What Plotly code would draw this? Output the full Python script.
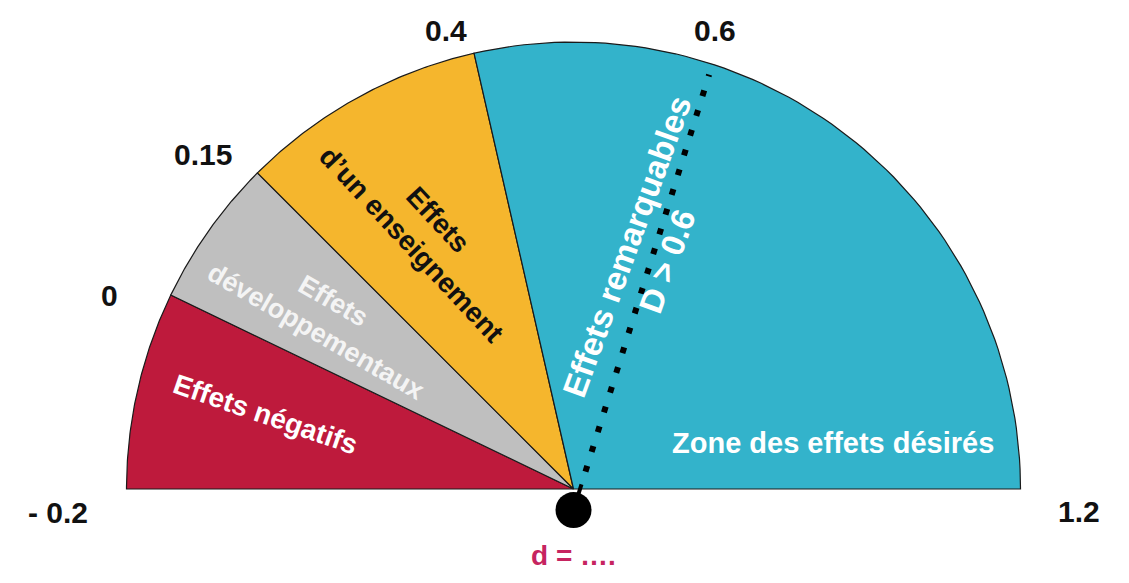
import numpy as np
import plotly.graph_objects as go

# gauge scale: values from -0.2 (left) to 1.2 (right)
scale_min = -0.2
scale_max = 1.2

zone_bounds = [-0.2, 0.0, 0.15, 0.4, 1.2]
zone_names = [
    "Effets négatifs",
    "Effets<br>développementaux",
    "Effets<br>d’un enseignement",
    "Zone des effets désirés",
]
zone_colors = ["#BE1A3C", "#BFBFBF", "#F5B62D", "#33B3CB"]
zone_text_colors = ["#ffffff", "#f4f4f4", "#111111", "#ffffff"]

tick_values = [-0.2, 0.0, 0.15, 0.4, 0.6, 1.2]
tick_labels = ["- 0.2", "0", "0.15", "0.4", "0.6", "1.2"]

threshold_value = 0.6
threshold_label = "Effets remarquables<br>D > 0.6"
result_label = "d = …."


def value_to_angle(v):
    return np.pi * (scale_max - v) / (scale_max - scale_min)


fig = go.Figure()

# sectors
for lo, hi, color in zip(zone_bounds[:-1], zone_bounds[1:], zone_colors):
    t = np.linspace(value_to_angle(lo), value_to_angle(hi), 80)
    xs = np.concatenate([[0], np.cos(t), [0]])
    ys = np.concatenate([[0], np.sin(t), [0]])
    fig.add_trace(
        go.Scatter(
            x=xs,
            y=ys,
            mode="lines",
            fill="toself",
            fillcolor=color,
            line=dict(color="#1a1a1a", width=1.2),
            hoverinfo="skip",
        )
    )

# needle (pivot sits a bit below the arc centre)
pivot_y = -0.047
needle_angle = np.radians(72.7)
fig.add_trace(
    go.Scatter(
        x=[0, 0.06 * np.cos(needle_angle)],
        y=[pivot_y, pivot_y + 0.06 * np.sin(needle_angle)],
        mode="lines",
        line=dict(color="#000000", width=4),
        hoverinfo="skip",
    )
)
fig.add_trace(
    go.Scatter(
        x=[0.09 * np.cos(needle_angle), 1.02 * np.cos(needle_angle)],
        y=[pivot_y + 0.09 * np.sin(needle_angle), pivot_y + 1.02 * np.sin(needle_angle)],
        mode="lines",
        line=dict(color="#000000", width=6, dash="6px,14.7px"),
        hoverinfo="skip",
    )
)
fig.add_trace(
    go.Scatter(
        x=[0],
        y=[pivot_y],
        mode="markers",
        marker=dict(color="#000000", size=36),
        hoverinfo="skip",
    )
)

font_family = "Liberation Sans, Arial, sans-serif"

# tick labels, shifted (px) from the point on the rim
tick_shifts = [(-69, -23), (-61, 0), (-54, 18), (-28, 23), (42, 23), (58, -22)]
for v, label, (dx, dy) in zip(tick_values, tick_labels, tick_shifts):
    a = value_to_angle(v)
    fig.add_annotation(
        x=np.cos(a),
        y=np.sin(a),
        text=label,
        showarrow=False,
        xshift=dx,
        yshift=dy,
        font=dict(family=font_family, size=30, color="#111111", weight="bold"),
    )

# zone labels: (x, y) in gauge units, rotation and size
zone_label_pos = [(-0.688, 0.167), (-0.556, 0.385), (-0.334, 0.575), (0.58, 0.102)]
zone_label_angle = [19, 30, 47, 0]
zone_label_size = [28, 27, 28, 29]
for name, color, (lx, ly), ang, size in zip(
    zone_names, zone_text_colors, zone_label_pos, zone_label_angle, zone_label_size
):
    fig.add_annotation(
        x=lx,
        y=ly,
        text=name,
        showarrow=False,
        textangle=ang,
        font=dict(family=font_family, size=size, color=color, weight="bold"),
    )

fig.add_annotation(
    x=0.165,
    y=0.525,
    text=threshold_label,
    showarrow=False,
    textangle=-70,
    font=dict(family=font_family, size=33, color="#ffffff", weight="bold"),
)

fig.add_annotation(
    x=0,
    y=-0.149,
    text=result_label,
    showarrow=False,
    font=dict(family=font_family, size=28, color="#C62460", weight="bold"),
)

# the page adds an 8px body margin, so the figure is 16px smaller than the window
fig.update_layout(
    width=1113,
    height=567,
    showlegend=False,
    plot_bgcolor="#ffffff",
    paper_bgcolor="#ffffff",
    margin=dict(l=0, r=0, t=0, b=0),
    xaxis=dict(range=[-1.2651, 1.2248], visible=False, fixedrange=True),
    yaxis=dict(range=[-0.1924, 1.0761], visible=False, fixedrange=True),
)

fig.write_html("out.html")
